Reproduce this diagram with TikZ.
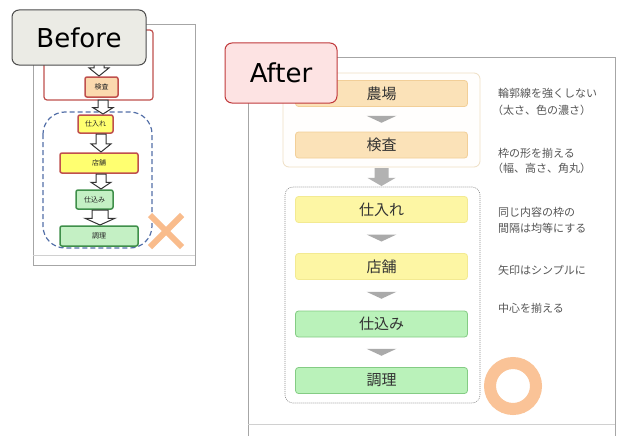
\documentclass[tikz,border=0pt]{standalone}
\usepackage{fontspec}
\setmainfont{DejaVu Sans}
\newfontfamily\jp{Noto Sans CJK JP}
\usetikzlibrary{calc}
\definecolor{frameg}{HTML}{A6A6A6}
\definecolor{lightg}{HTML}{D0D0D0}
\definecolor{bred}{HTML}{C0504D}
\definecolor{bpeach}{HTML}{FBD9AE}
\definecolor{byellow}{HTML}{FFFF70}
\definecolor{bgreen}{HTML}{C4F0C4}
\definecolor{bgreend}{HTML}{3F8F4A}
\definecolor{bblue}{HTML}{5470A8}
\definecolor{xorange}{HTML}{F9BC8C}
\definecolor{apeach}{HTML}{FBE2B8}
\definecolor{apeachd}{HTML}{F2CF98}
\definecolor{ayellow}{HTML}{FDF6A4}
\definecolor{ayellowd}{HTML}{F3EA92}
\definecolor{agreen}{HTML}{BAF2BA}
\definecolor{agreend}{HTML}{84CC84}
\definecolor{agrpline}{HTML}{EEDFC4}
\definecolor{atri}{HTML}{AAAAAA}
\definecolor{txt}{HTML}{333333}
\definecolor{note}{HTML}{555555}
\definecolor{labgray}{HTML}{EBEBE5}
\definecolor{labpink}{HTML}{FDE3E3}
\definecolor{labred}{HTML}{C0393B}
\newcommand\blockarr[5]{%
  \filldraw[#1] let \p1=(#2), \p2=(#3) in
   ({\x1-#4},{\y1}) -- ({\x1+#4},{\y1}) -- ({\x1+#4},{0.45*\y1+0.55*\y2}) --
   ({\x1+#5},{0.45*\y1+0.55*\y2}) -- ({\x1},{\y2}) -- ({\x1-#5},{0.45*\y1+0.55*\y2}) --
   ({\x1-#4},{0.45*\y1+0.55*\y2}) -- cycle;}
\newcommand\tri[2]{%
  \fill[atri] let \p1=($(#1.south)!0.5!(#2.north)$) in
   ({\x1-15pt},{\y1+3.5pt}) -- ({\x1+15pt},{\y1+3.5pt}) -- ({\x1},{\y1-3.5pt}) -- cycle;}
\begin{document}
\begin{tikzpicture}[x=1pt,y=-1pt,
  bbox/.style={draw=bred,line width=1.5pt,rounded corners=2pt,inner sep=0pt,font=\jp\fontsize{7}{8}\selectfont,text=black!85},
  bpe/.style={bbox,fill=bpeach},
  bye/.style={bbox,fill=byellow},
  bgr/.style={bbox,fill=bgreen,draw=bgreend},
  hollow/.style={draw=black!80,fill=white,line width=1pt},
  abox/.style={rounded corners=3pt,line width=0.8pt,minimum width=172pt,minimum height=26pt,inner sep=0pt,font=\jp\fontsize{15}{16}\selectfont,text=txt},
  ape/.style={abox,fill=apeach,draw=apeachd},
  aye/.style={abox,fill=ayellow,draw=ayellowd},
  agr/.style={abox,fill=agreen,draw=agreend},
  notetext/.style={anchor=west,inner sep=0pt,font=\jp\fontsize{11}{12}\selectfont,text=note},
  lab/.style={rounded corners=7pt,line width=1pt,inner sep=0pt,font=\fontsize{26}{28}\selectfont,text=black}
]
\useasboundingbox (0,0) rectangle (617,436);
\fill[white] (0,0) rectangle (617,436);
% ---------- Before frame ----------
\draw[frameg,line width=1pt] (33,25) rectangle (195,265);
\draw[lightg,line width=0.8pt] (33,255) -- (195,255);
% red group
\draw[bred,line width=1.2pt,rounded corners=3pt] (44,30) rectangle (153,100);
% blue dashed group
\draw[bblue,line width=1.2pt,dash pattern=on 5pt off 3pt,rounded corners=22pt] (43,112) rectangle (152,248);
% boxes
\node[bpe,minimum width=33pt,minimum height=20pt] (bkensa) at (101.5,87) {検査};
\node[bye,minimum width=35pt,minimum height=18pt] (bshiire) at (95.5,124) {仕入れ};
\node[bye,minimum width=78pt,minimum height=20pt] (btenpo) at (99,163) {店舗};
\node[bgr,minimum width=37pt,minimum height=19pt] (bshikomi) at (94.5,199.5) {仕込み};
\node[bgr,minimum width=78pt,minimum height=20pt] (bchouri) at (99,236) {調理};
% hollow arrows
\coordinate (ba0s) at (99,58);  \coordinate (ba0e) at (99,76);
\coordinate (ba1s) at (103,100); \coordinate (ba1e) at (103,114);
\coordinate (ba2s) at (101,134);\coordinate (ba2e) at (101,152);
\coordinate (ba3s) at (101,174);\coordinate (ba3e) at (101,189);
\coordinate (ba4s) at (100,210);\coordinate (ba4e) at (100,225);
\blockarr{hollow}{ba0s}{ba0e}{5pt}{10pt}
\blockarr{hollow}{ba1s}{ba1e}{5pt}{10pt}
\blockarr{hollow}{ba2s}{ba2e}{5pt}{10pt}
\blockarr{hollow}{ba3s}{ba3e}{5pt}{10pt}
\blockarr{hollow}{ba4s}{ba4e}{8pt}{15pt}
% orange X
\coordinate (xc) at (166,231);
\draw[xorange,line width=6pt] ($(xc)+(-16,-16)$) -- ($(xc)+(16,16)$);
\draw[xorange,line width=6pt] ($(xc)+(16,-16)$) -- ($(xc)+(-16,16)$);
% Before label
\node[lab,draw=black!70,fill=labgray,minimum width=134pt,minimum height=55pt] (before) at (79,37.5) {Before};
% ---------- After frame ----------
\draw[frameg,line width=1pt] (248,436) -- (248,57) -- (615,57) -- (615,436);
\draw[lightg,line width=0.8pt] (248,424) -- (615,424);
% group 1
\draw[agrpline,fill=white!97!apeach,line width=0.8pt,rounded corners=6pt] (283,73) rectangle (480,167);
\node[ape] (noujou) at (381.5,93.5) {農場};
\node[ape] (kensa) at (381.5,145) {検査};
\tri{noujou}{kensa}
% group 2
\draw[black!45,line width=0.6pt,dash pattern=on 1pt off 1pt,rounded corners=8pt] (285,187) rectangle (480,403);
\node[aye] (shiire) at (381.5,209.5) {仕入れ};
\node[aye] (tenpo) at (381.5,266.5) {店舗};
\node[agr] (shikomi) at (381.5,324) {仕込み};
\node[agr] (chouri) at (381.5,380.5) {調理};
\tri{shiire}{tenpo}
\tri{tenpo}{shikomi}
\tri{shikomi}{chouri}
% big gray arrow between groups
\coordinate (ga1) at (381.5,168);
\coordinate (ga2) at (381.5,186);
\blockarr{fill=atri!90!white,draw=none}{ga1}{ga2}{7pt}{14pt}
% notes
\node[notetext] (n1a) at (498,93) {輪郭線を強くしない};
\node[notetext] (n1b) at (492,110) {（太さ、色の濃さ）};
\node[notetext] (n2a) at (498,153) {枠の形を揃える};
\node[notetext] (n2b) at (492,168) {（幅、高さ、角丸）};
\node[notetext] (n3a) at (498,212) {同じ内容の枠の};
\node[notetext] (n3b) at (498,228) {間隔は均等にする};
\node[notetext] (n4) at (498,270) {矢印はシンプルに};
\node[notetext] (n5) at (498,308) {中心を揃える};
% orange ring
\coordinate (ringc) at (513,386);
\draw[xorange!90!white,line width=12pt] (ringc) circle (23pt);
% After label
\node[lab,draw=labred,fill=labpink,minimum width=112pt,minimum height=60pt] (after) at (281,73) {After};
\end{tikzpicture}
\end{document}
